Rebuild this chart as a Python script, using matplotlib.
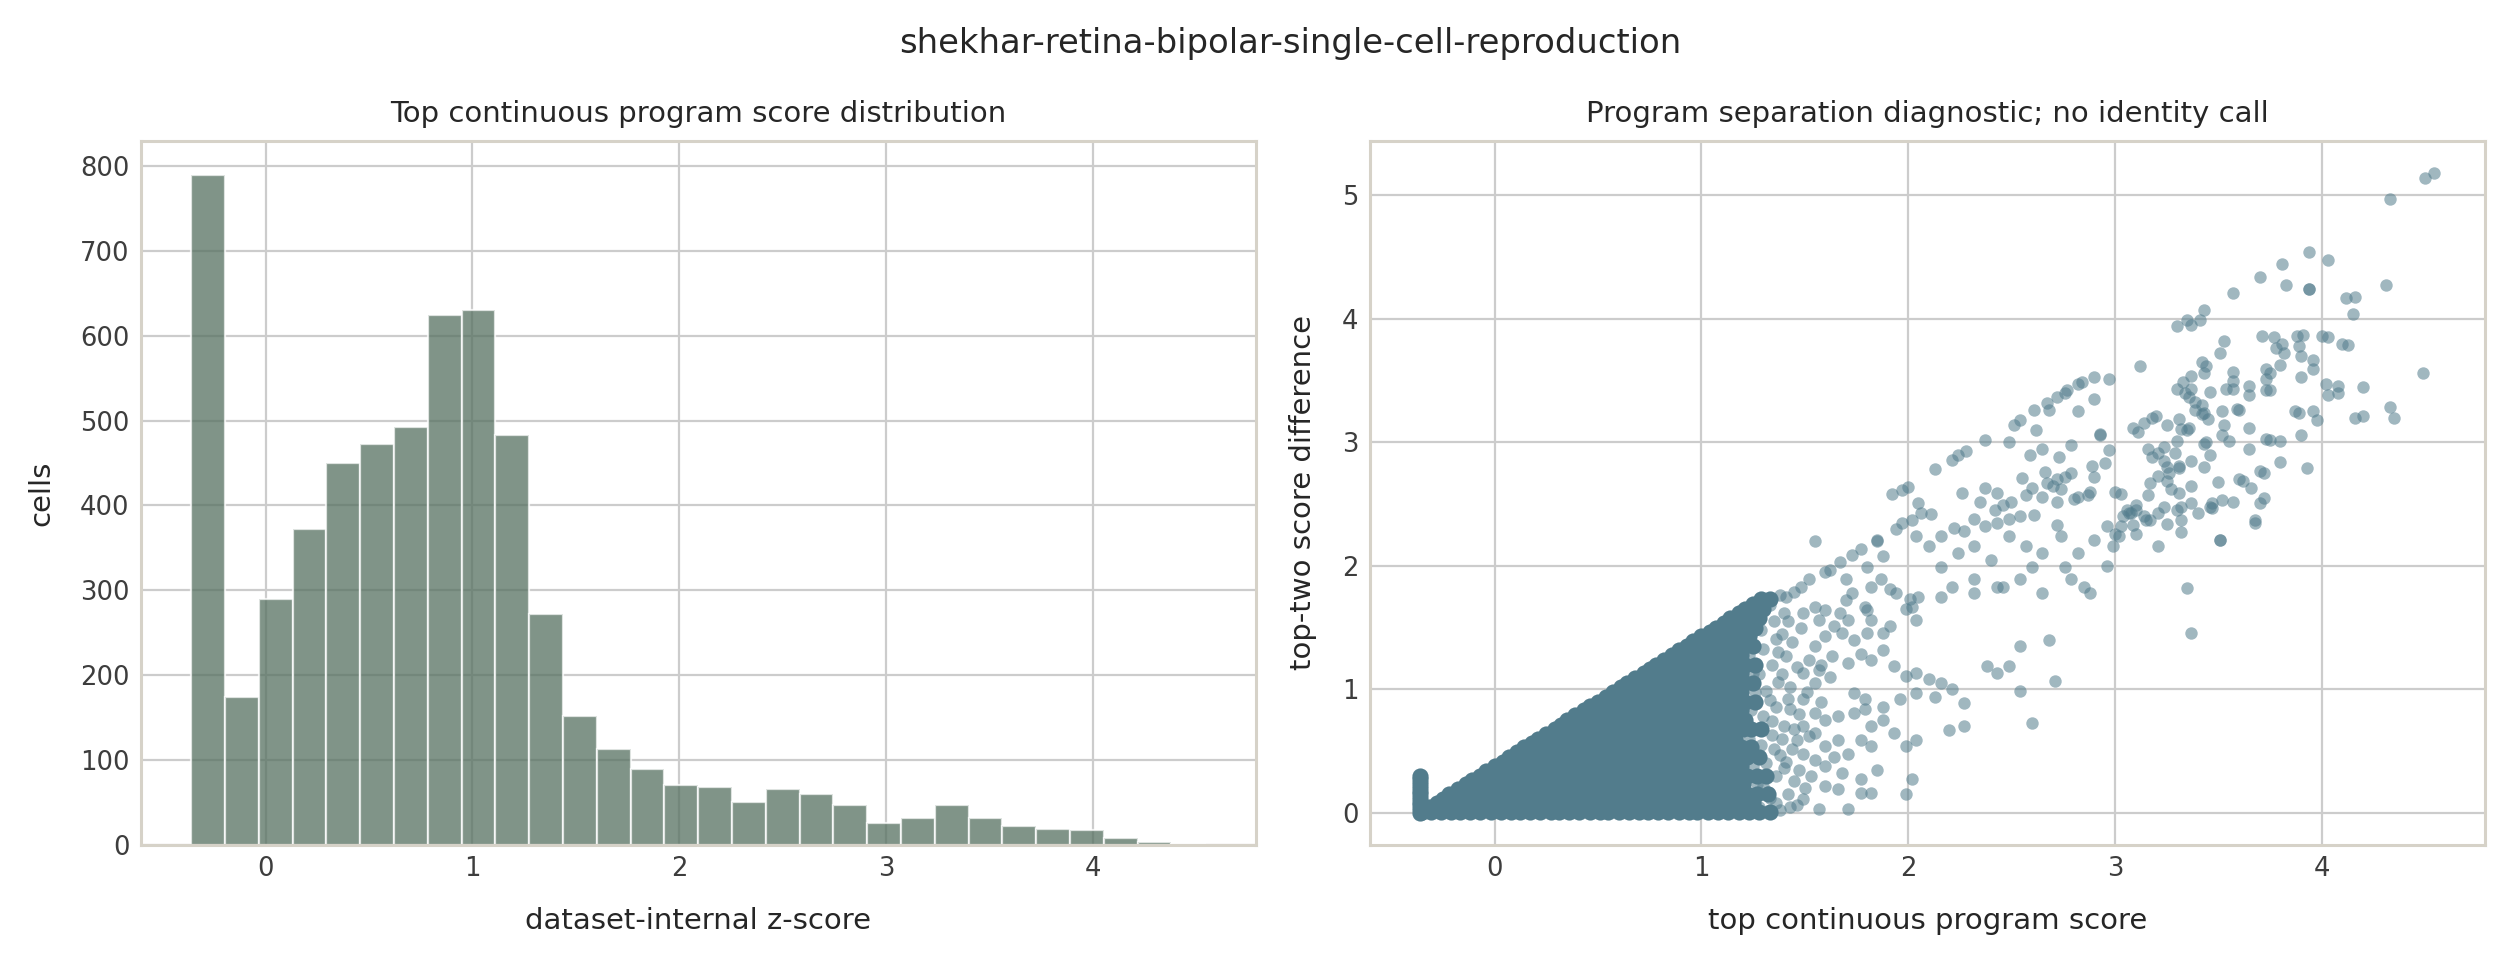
import numpy as np
import matplotlib
matplotlib.use("Agg")
import matplotlib.pyplot as plt

# histogram of top continuous program score (30 bins)
hist_lo, hist_width = -0.359, 0.1634
hist_counts = [790, 174, 290, 372, 450, 473, 492, 624, 631, 483,
               272, 152, 113, 89, 70, 68, 51, 66, 60, 47,
               26, 32, 47, 32, 22, 19, 17, 8, 3, 1]

# dense region of the scatter (thousands of overlapping cells), read row by row
core_rows = [
    (0.01, [-0.35, -0.31, -0.26, -0.21, -0.17, -0.12, -0.07, -0.02, 0.03, 0.08, 0.12, 0.17, 0.22, 0.27, 0.31, 0.36,
            0.41, 0.46, 0.51, 0.55, 0.60, 0.65, 0.70, 0.74, 0.79, 0.84, 0.89, 0.94, 0.98, 1.03, 1.08, 1.13, 1.18,
            1.23, 1.28, 1.33]),
    (0.08, [-0.28, -0.23, -0.19, -0.14, -0.09, -0.04, 0.01, 0.05, 0.10, 0.15, 0.20, 0.24, 0.29, 0.34, 0.39, 0.44,
            0.48, 0.53, 0.58, 0.63, 0.67, 0.72, 0.77, 0.82, 0.87, 0.91, 0.96, 1.01, 1.06, 1.11, 1.15, 1.20, 1.25]),
    (0.15, [-0.22, -0.17, -0.12, -0.07, -0.03, 0.02, 0.07, 0.12, 0.17, 0.21, 0.26, 0.31, 0.36, 0.41, 0.45, 0.50,
            0.55, 0.60, 0.65, 0.69, 0.74, 0.79, 0.84, 0.89, 0.93, 0.98, 1.03, 1.08, 1.13, 1.17, 1.22, 1.27, 1.32]),
    (0.23, [-0.14, -0.10, -0.05, 0.00, 0.05, 0.09, 0.14, 0.19, 0.24, 0.29, 0.33, 0.38, 0.43, 0.48, 0.53, 0.57,
            0.62, 0.67, 0.72, 0.77, 0.81, 0.86, 0.91, 0.96, 1.01, 1.05, 1.10, 1.15, 1.20]),
    (0.30, [-0.07, -0.03, 0.02, 0.07, 0.12, 0.16, 0.21, 0.26, 0.31, 0.36, 0.40, 0.45, 0.50, 0.55, 0.60, 0.64,
            0.69, 0.74, 0.79, 0.84, 0.88, 0.93, 0.98, 1.03, 1.08, 1.12, 1.17, 1.22, 1.27, 1.31]),
    (0.38, [0.00, 0.04, 0.09, 0.14, 0.19, 0.23, 0.28, 0.33, 0.38, 0.43, 0.47, 0.52, 0.57, 0.62, 0.67, 0.71,
            0.76, 0.81, 0.86, 0.91, 0.95, 1.00, 1.05, 1.10, 1.15, 1.19]),
    (0.45, [0.07, 0.11, 0.16, 0.21, 0.26, 0.30, 0.35, 0.40, 0.45, 0.50, 0.54, 0.59, 0.64, 0.69, 0.74, 0.78,
            0.83, 0.88, 0.93, 0.98, 1.02, 1.07, 1.12, 1.17, 1.22, 1.28]),
    (0.53, [0.14, 0.18, 0.23, 0.28, 0.33, 0.37, 0.42, 0.47, 0.52, 0.57, 0.61, 0.66, 0.71, 0.76, 0.81, 0.85,
            0.90, 0.95, 1.00, 1.05, 1.09, 1.14, 1.19, 1.24]),
    (0.60, [0.21, 0.25, 0.30, 0.35, 0.40, 0.44, 0.49, 0.54, 0.59, 0.64, 0.68, 0.73, 0.78, 0.83, 0.88, 0.92,
            0.97, 1.02, 1.07, 1.12, 1.16]),
    (0.68, [0.29, 0.33, 0.38, 0.43, 0.48, 0.52, 0.57, 0.62, 0.67, 0.72, 0.76, 0.81, 0.86, 0.91, 0.96, 1.00,
            1.05, 1.10, 1.15, 1.20, 1.24, 1.29]),
    (0.75, [0.35, 0.40, 0.45, 0.49, 0.54, 0.59, 0.64, 0.69, 0.73, 0.78, 0.83, 0.88, 0.93, 0.97, 1.02, 1.07,
            1.12, 1.17, 1.21]),
    (0.83, [0.43, 0.47, 0.52, 0.57, 0.62, 0.66, 0.71, 0.76, 0.81, 0.86, 0.90, 0.95, 1.00, 1.05, 1.10, 1.14,
            1.19]),
    (0.90, [0.50, 0.54, 0.59, 0.64, 0.69, 0.73, 0.78, 0.83, 0.88, 0.93, 0.97, 1.02, 1.07, 1.12, 1.17, 1.21,
            1.26]),
    (0.98, [0.57, 0.61, 0.66, 0.71, 0.76, 0.80, 0.85, 0.90, 0.95, 1.00, 1.04, 1.09, 1.14, 1.19]),
    (1.05, [0.64, 0.68, 0.73, 0.78, 0.83, 0.87, 0.92, 0.97, 1.02, 1.07, 1.11, 1.16, 1.21, 1.25]),
    (1.13, [0.72, 0.76, 0.81, 0.86, 0.91, 0.95, 1.00, 1.05, 1.10, 1.15, 1.19]),
    (1.20, [0.78, 0.83, 0.88, 0.92, 0.97, 1.02, 1.07, 1.12, 1.16, 1.21, 1.26]),
    (1.28, [0.86, 0.90, 0.95, 1.00, 1.05, 1.09, 1.14, 1.19]),
    (1.35, [0.93, 0.97, 1.02, 1.07, 1.12, 1.16, 1.21, 1.25]),
    (1.43, [1.00, 1.04, 1.09, 1.14, 1.19, 1.23]),
    (1.50, [1.07, 1.11, 1.16, 1.21, 1.26]),
    (1.58, [1.14, 1.18, 1.23, 1.28]),
    (1.65, [1.21, 1.26, 1.30]),
    (1.73, [1.29, 1.33]),
]
# cells lying on the upper edge of the dense wedge
edge_pts = [(-0.32, 0.045), (-0.25, 0.115), (-0.18, 0.19), (-0.11, 0.265), (-0.04, 0.34), (0.04, 0.415),
            (0.11, 0.49), (0.18, 0.565), (0.25, 0.64), (0.32, 0.715), (0.39, 0.79), (0.46, 0.865),
            (0.54, 0.94), (0.61, 1.015), (0.68, 1.09), (0.75, 1.165), (0.82, 1.24), (0.89, 1.315),
            (0.96, 1.39), (1.04, 1.465), (1.11, 1.54), (1.18, 1.615), (1.25, 1.69)]
# cells sitting at the minimum score
floor_x = -0.36
floor_y = [0.00, 0.03, 0.06, 0.09, 0.12, 0.15, 0.18, 0.21, 0.24, 0.27, 0.30]

# sparse cells (top score, top-two difference)
tail_pts = [
    (4.545, 5.18), (4.50, 5.14), (4.33, 4.97), (3.94, 4.54), (4.03, 4.48), (3.81, 4.44), (3.70, 4.34),
    (3.83, 4.27), (3.94, 4.24), (3.94, 4.24), (3.57, 4.21), (4.31, 4.27), (4.12, 4.17), (4.16, 4.18),
    (4.15, 4.04), (3.43, 4.07), (3.41, 3.99), (3.37, 3.95), (3.35, 3.99), (3.30, 3.94), (3.12, 3.62),
    (3.53, 3.82), (3.51, 3.72), (3.71, 3.86), (3.77, 3.85), (3.81, 3.80), (3.78, 3.76), (3.82, 3.72),
    (3.80, 3.63), (3.88, 3.86), (3.91, 3.87), (3.89, 3.78), (3.90, 3.70), (3.96, 3.67), (3.96, 3.59),
    (3.90, 3.53), (4.00, 3.86), (4.03, 3.85), (4.10, 3.80), (4.13, 3.79), (4.49, 3.56), (3.42, 3.65),
    (3.44, 3.62), (3.43, 3.56), (3.37, 3.54), (3.33, 3.49), (3.30, 3.43), (3.34, 3.40), (3.37, 3.43),
    (3.57, 3.57), (3.57, 3.50), (3.54, 3.43), (3.57, 3.43), (3.46, 3.41), (3.65, 3.46), (3.65, 3.38),
    (3.73, 3.59), (3.75, 3.56), (3.73, 3.51), (3.73, 3.42), (3.75, 3.42), (4.02, 3.47), (4.08, 3.46),
    (4.03, 3.38), (4.08, 3.40), (4.20, 3.45), (3.36, 3.37), (3.39, 3.33), (3.42, 3.30), (3.39, 3.26),
    (3.42, 3.23), (3.45, 3.19), (3.43, 3.24), (3.52, 3.25), (3.53, 3.14), (3.52, 3.06), (3.59, 3.27),
    (3.60, 3.26), (3.87, 3.25), (3.89, 3.24), (3.96, 3.25), (3.98, 3.18), (4.16, 3.20), (4.20, 3.21),
    (4.33, 3.29), (4.35, 3.20), (3.65, 3.12), (3.65, 2.95), (3.73, 3.03), (3.75, 3.02), (3.80, 3.01),
    (3.90, 3.06), (3.80, 2.84), (3.93, 2.79), (3.68, 2.35), (3.50, 2.68), (3.62, 2.69), (3.66, 2.63),
    (3.70, 2.77), (3.72, 2.75), (3.70, 2.51), (3.72, 2.55), (3.47, 2.51), (3.52, 2.53), (3.51, 2.21),
    (3.09, 3.12), (3.11, 3.08), (3.14, 3.16), (3.18, 3.20), (3.20, 3.21), (3.25, 3.14), (3.31, 3.19),
    (3.32, 3.11), (3.35, 3.10), (3.36, 3.12), (3.16, 2.95), (3.18, 2.88), (3.21, 2.91), (3.24, 2.96),
    (3.24, 2.85), (3.29, 2.91), (3.30, 3.01), (3.31, 2.81), (3.25, 2.80), (3.26, 2.75), (3.25, 2.69),
    (3.21, 2.73), (3.31, 2.79), (3.37, 2.65), (3.27, 2.62), (3.31, 2.59), (3.37, 2.51), (3.32, 2.48),
    (3.30, 2.45), (3.17, 2.67), (3.16, 2.57), (3.21, 2.43), (3.25, 2.34), (3.17, 2.37), (3.14, 2.40),
    (3.10, 2.45), (3.43, 2.80), (3.37, 2.85), (3.43, 2.99), (3.44, 3.00), (3.46, 2.90), (3.55, 3.01),
    (3.47, 2.47), (3.57, 2.52), (3.32, 2.27), (2.90, 3.53), (2.97, 3.51), (2.84, 3.49), (2.82, 3.47),
    (2.77, 3.42), (2.76, 3.40), (2.72, 3.37), (2.67, 3.32), (2.68, 3.26), (2.61, 3.26), (2.90, 3.35),
    (2.82, 3.25), (2.54, 3.18), (2.51, 3.14), (2.62, 3.10), (2.37, 3.02), (2.49, 3.00), (2.28, 2.93),
    (2.24, 2.90), (2.21, 2.86), (2.13, 2.78), (2.00, 2.64), (1.97, 2.61), (1.92, 2.58), (2.05, 2.51),
    (2.06, 2.43), (2.11, 2.42), (2.02, 2.37), (1.97, 2.35), (1.94, 2.30), (2.93, 3.07), (2.93, 3.06),
    (2.97, 2.94), (2.95, 2.83), (2.89, 2.81), (2.90, 2.72), (2.88, 2.60), (2.87, 2.57), (2.82, 2.56),
    (2.80, 2.54), (2.74, 2.62), (2.79, 2.98), (2.73, 2.88), (2.65, 2.95), (2.59, 2.90), (2.66, 2.76),
    (2.70, 2.65), (2.67, 2.67), (2.72, 2.70), (2.76, 2.72), (2.79, 2.75), (2.55, 2.71), (2.60, 2.63),
    (2.57, 2.57), (2.65, 2.56), (2.72, 2.52), (2.50, 2.52), (2.46, 2.49), (2.42, 2.45), (2.43, 2.35),
    (2.49, 2.38), (2.54, 2.40), (2.61, 2.41), (2.72, 2.33), (2.37, 2.63), (2.43, 2.59), (2.35, 2.52),
    (2.26, 2.59), (2.32, 2.38), (2.37, 2.32), (2.27, 2.28), (2.22, 2.31), (3.00, 2.60), (3.03, 2.58),
    (3.06, 2.45), (3.10, 2.49), (3.04, 2.40), (3.08, 2.43), (3.09, 2.33), (3.00, 2.26), (3.03, 2.32),
    (1.85, 2.21), (1.55, 2.20), (1.77, 2.14), (1.85, 2.20), (1.73, 2.09), (1.67, 2.03), (1.62, 1.97),
    (1.60, 1.95), (1.52, 1.89), (1.48, 1.83), (1.45, 1.79), (1.41, 1.75), (1.88, 2.08), (1.80, 1.99),
    (1.87, 1.89), (1.82, 1.83), (1.70, 1.89), (1.73, 1.78), (1.79, 1.67), (1.80, 1.64), (1.70, 1.72),
    (1.67, 1.62), (1.60, 1.64), (1.55, 1.67), (1.49, 1.62), (1.57, 1.56), (1.71, 1.56), (1.91, 1.81),
    (1.94, 1.78), (2.01, 1.73), (2.05, 1.75), (1.99, 1.65), (2.02, 1.67), (2.04, 1.56), (1.91, 1.51),
    (1.88, 1.46), (1.82, 1.56), (1.80, 1.46), (1.74, 1.40), (1.68, 1.46), (1.64, 1.51), (1.60, 1.43),
    (1.55, 1.35), (1.52, 1.24), (1.49, 1.13), (1.57, 1.16), (1.63, 1.27), (1.71, 1.21), (1.77, 1.29),
    (1.82, 1.24), (1.88, 1.32), (1.93, 1.19), (1.99, 1.11), (2.04, 1.13), (2.10, 1.08), (2.16, 1.05),
    (2.21, 1.00), (2.27, 0.89), (2.13, 0.94), (2.04, 0.97), (1.96, 0.92), (1.88, 0.86), (1.79, 0.92),
    (1.74, 0.97), (1.49, 0.92), (1.55, 0.81), (1.60, 0.75), (1.66, 0.78), (1.74, 0.81), (1.79, 0.84),
    (1.82, 0.70), (1.88, 0.75), (1.93, 0.65), (1.99, 0.54), (2.04, 0.59), (1.82, 0.54), (1.77, 0.59),
    (1.71, 0.48), (1.66, 0.59), (1.60, 0.54), (1.55, 0.65), (1.49, 0.70), (1.46, 0.59), (1.49, 0.48),
    (1.55, 0.43), (1.60, 0.38), (1.68, 0.32), (1.77, 0.27), (1.66, 0.19), (1.77, 0.16), (1.85, 0.35),
    (2.02, 0.27), (1.99, 0.15), (1.82, 0.16), (1.57, 0.03), (1.71, 0.03), (1.49, 0.11), (1.43, 0.05),
    (2.27, 0.70), (2.20, 0.67), (2.60, 0.73), (2.71, 1.07), (2.54, 0.99), (3.37, 1.46), (3.35, 1.82),
    (2.38, 1.19), (2.43, 1.13), (2.49, 1.19), (2.54, 1.35), (2.68, 1.40), (2.79, 1.89), (2.88, 1.78),
    (2.96, 2.00), (2.65, 1.78), (2.54, 1.89), (2.43, 1.83), (2.32, 1.78), (2.21, 1.83), (2.16, 1.75),
    (2.16, 1.99), (2.24, 2.10), (2.32, 2.16), (2.40, 2.05), (2.49, 2.24), (2.57, 2.16), (2.65, 2.10),
    (2.74, 2.24), (2.82, 2.10), (2.90, 2.21), (2.99, 2.16), (2.96, 2.32), (2.32, 1.89), (2.46, 1.83),
    (2.60, 1.99), (2.76, 1.99), (2.85, 1.83), (2.10, 2.16), (2.04, 2.24), (2.16, 2.24), (3.07, 2.43),
    (3.15, 2.37), (3.24, 2.48), (3.32, 2.37), (3.40, 2.43), (3.51, 2.21), (3.21, 2.16), (3.68, 2.37),
    (3.10, 2.26), (3.02, 2.24), (3.46, 2.48), (3.60, 2.70),
    (1.28, 0.05), (1.33, 0.12), (1.30, 0.22), (1.36, 0.30), (1.31, 0.40), (1.38, 0.47), (1.29, 0.55),
    (1.34, 0.63), (1.40, 0.70), (1.30, 0.78), (1.36, 0.86), (1.42, 0.92), (1.31, 0.99), (1.37, 1.06),
    (1.28, 1.12), (1.34, 1.20), (1.41, 1.27), (1.30, 1.33), (1.36, 1.41), (1.29, 1.48), (1.35, 1.55),
    (1.40, 1.62), (1.33, 1.68), (1.38, 1.76), (1.38, 0.02), (1.42, 0.15), (1.45, 0.26), (1.40, 0.36),
    (1.44, 0.52), (1.47, 0.80), (1.43, 1.02), (1.46, 1.18), (1.44, 1.38), (1.48, 1.50), (1.52, 0.62),
    (1.51, 0.98), (1.55, 1.05), (1.53, 0.30), (1.46, 0.06), (1.50, 0.20), (1.58, 0.90), (1.62, 1.10),
    (1.64, 0.45), (1.60, 0.22), (1.58, 1.20),
    (1.32, 0.17), (1.35, 0.52), (1.33, 0.91), (1.37, 1.30), (1.39, 1.12), (1.34, 0.74), (1.39, 0.60),
    (1.41, 0.41), (1.36, 0.08), (1.42, 1.55), (1.39, 1.45), (1.45, 0.68), (1.47, 0.35), (1.43, 0.84),
    (1.24, 0.83), (1.23, 0.60), (1.25, 1.13), (1.23, 1.28), (1.25, 0.38), (1.26, 0.98), (1.27, 0.23),
]

core_x = ([x for y, xs in core_rows for x in xs] + [p[0] for p in edge_pts]
          + [floor_x] * len(floor_y))
core_y = ([y for y, xs in core_rows for x in xs] + [p[1] for p in edge_pts]
          + floor_y)
tail_x = [p[0] for p in tail_pts]
tail_y = [p[1] for p in tail_pts]

plt.rcParams.update({
    "font.family": "DejaVu Sans",
    "axes.edgecolor": "#d6d2c8",
    "axes.linewidth": 1.1,
    "axes.grid": True,
    "grid.color": "#cccccc",
    "grid.linewidth": 0.8,
    "axes.axisbelow": True,
    "xtick.color": "#3d3d3d",
    "ytick.color": "#3d3d3d",
    "xtick.major.size": 0,
    "ytick.major.size": 0,
    "xtick.labelsize": 9.3,
    "ytick.labelsize": 9.3,
    "axes.labelsize": 10.5,
    "axes.titlesize": 10.5,
    "axes.labelpad": 9.0,
    "text.color": "#262626",
    "axes.labelcolor": "#262626",
})

fig, (ax1, ax2) = plt.subplots(1, 2, figsize=(12.55, 4.8), dpi=200)
fig.subplots_adjust(left=0.056, right=0.990, bottom=0.120, top=0.853, wspace=0.102)

edges = hist_lo + hist_width * np.arange(len(hist_counts) + 1)
ax1.bar(edges[:-1], hist_counts, width=np.diff(edges), align="edge",
        color="#557060", alpha=0.75, edgecolor="white", linewidth=0.8)
ax1.set_title("Top continuous program score distribution", pad=7)
ax1.set_xlabel("dataset-internal z-score")
ax1.set_ylabel("cells")
ax1.set_yticks(range(0, 900, 100))

dot = "#527c8c"
# the packed core is drawn opaque with slightly bigger dots so it reads as solid
ax2.scatter(core_x, core_y, s=34, color=dot, alpha=1.0, linewidths=0)
ax2.scatter(tail_x, tail_y, s=20, color=dot, alpha=0.55, linewidths=0)
ax2.set_title("Program separation diagnostic; no identity call", pad=7)
ax2.set_xlabel("top continuous program score")
ax2.set_ylabel("top-two score difference")

for ax in (ax1, ax2):
    ax.tick_params(pad=4)
    ax.grid(True)

fig.suptitle("shekhar-retina-bipolar-single-cell-reproduction", fontsize=12.2, x=0.514, y=0.972)
fig.savefig("out.png", dpi=200)
